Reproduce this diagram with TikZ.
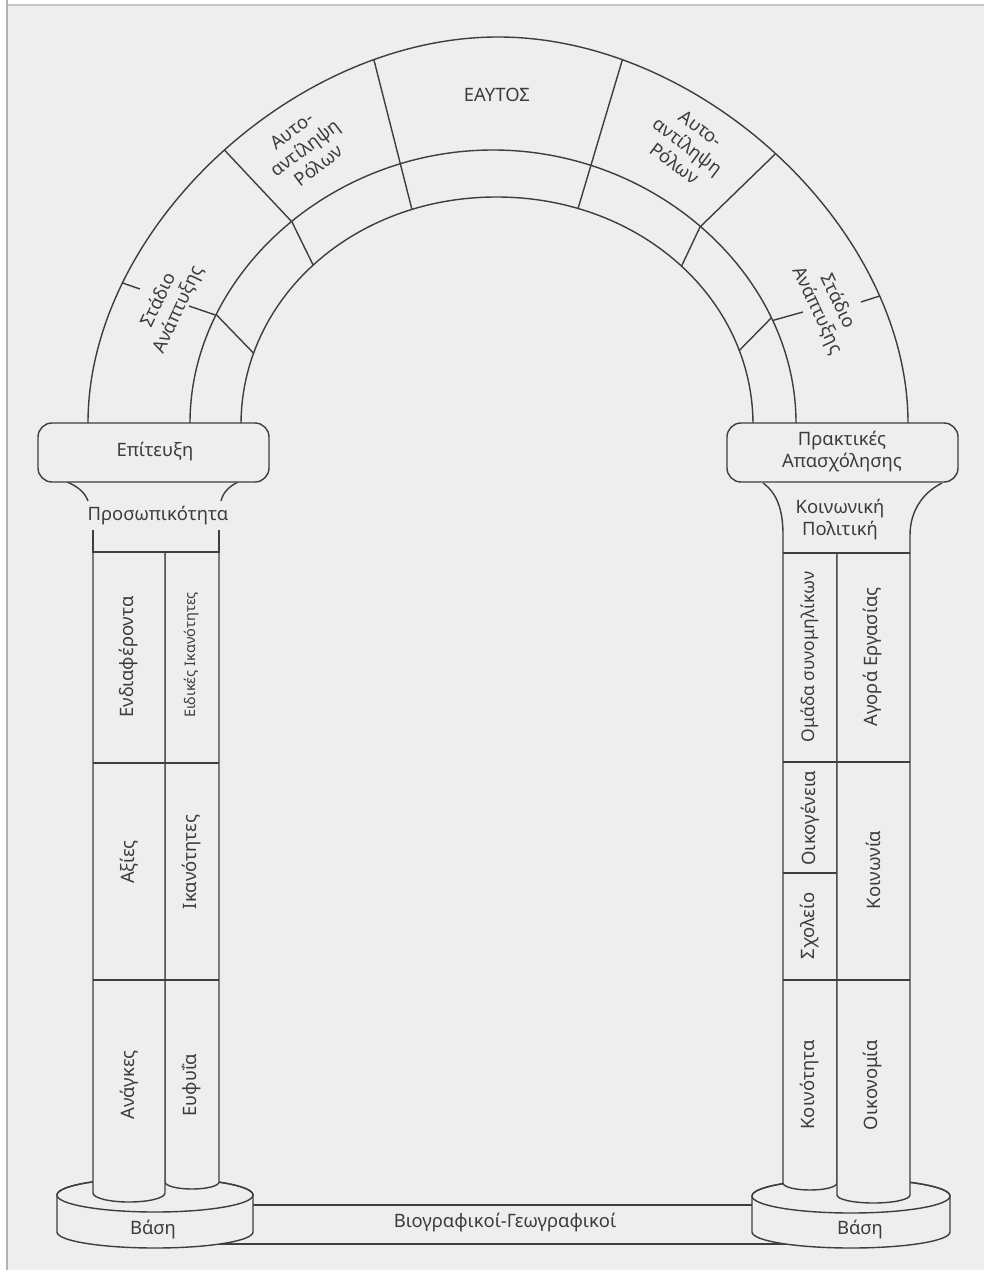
\documentclass[tikz,border=0pt]{standalone}
\usepackage{fontspec}
\setmainfont{Noto Sans}
\definecolor{bg}{RGB}{238,238,238}
\definecolor{ink}{RGB}{62,62,62}
\definecolor{txt}{RGB}{60,60,60}
\tikzset{
  outline/.style={draw=ink, line width=0.8pt},
  solidfill/.style={outline, fill=bg},
  lbl/.style={text=txt, font=\fontsize{10.5}{12.5}\selectfont, align=center, inner sep=0pt},
  vlbl/.style={lbl, rotate=90},
}
\begin{document}
\begin{tikzpicture}[x=0.02cm,y=-0.02cm]
\useasboundingbox (0,0) rectangle (984,1270);
% page background (scan)
\fill[white] (0,0) rectangle (984,1270);
\fill[bg] (8,5) rectangle (984,1270);
\draw[gray!60, line width=1.6pt] (7,0) -- (7,1270);
\draw[gray!45, line width=1pt] (8,5) -- (984,5);

% connecting bar
\draw[solidfill] (200,1205) rectangle (800,1244);
% bases
\draw[solidfill] (57,1195) -- (57,1232) arc[start angle=180, end angle=0, x radius=98, y radius=16]
  -- (253,1195) arc[start angle=0, end angle=-180, x radius=98, y radius=17] -- cycle;
\draw[outline] (155,1195) ellipse [x radius=98, y radius=17];
\draw[solidfill] (752,1196) -- (752,1232) arc[start angle=180, end angle=0, x radius=99, y radius=16]
  -- (950,1196) arc[start angle=0, end angle=-180, x radius=99, y radius=17] -- cycle;
\draw[outline] (851,1196) ellipse [x radius=99, y radius=17];

% left column
\draw[solidfill] (165,552) -- (165,1182) arc[start angle=180, end angle=0, x radius=27, y radius=7] -- (219,552);
\draw[solidfill] (93,552) -- (93,1193) arc[start angle=180, end angle=0, x radius=36, y radius=9] -- (165,552);
\draw[outline] (93,530) -- (93,552) -- (219,552) -- (219,530);
\draw[outline] (93,763) -- (219,763);
\draw[outline] (93,980) -- (219,980);

% right column
\draw[solidfill] (783,553) -- (783,1183) arc[start angle=180, end angle=0, x radius=27, y radius=7] -- (837,553);
\draw[solidfill] (837,553) -- (837,1195) arc[start angle=180, end angle=0, x radius=36.5, y radius=8] -- (910,553);
\draw[outline] (783,553) -- (910,553);
\draw[outline] (783,762) -- (910,762);
\draw[outline] (783,873) -- (837,873);
\draw[outline] (783,980) -- (910,980);
\draw[outline] (763,483) .. controls (777,493) and (783,510) .. (783,535) -- (783,553);
\draw[outline] (942,483) .. controls (922,493) and (910,512) .. (910,535) -- (910,553);

% left capital neck
\draw[outline] (67,482) .. controls (79,487) and (85,493) .. (88,501);
\draw[outline] (238,482) .. controls (228,487) and (223,493) .. (221,501);

% arch rings
\draw[outline] (88,423) .. controls (88,230) and (293,37) .. (498,37) .. controls (703,37) and (908,230) .. (908,423);
\draw[outline] (190,423) .. controls (190,276) and (329,150) .. (493,150) .. controls (657,150) and (796,276) .. (796,423);
\draw[outline] (241,423) .. controls (242,298) and (353,197) .. (496.5,197) .. controls (640,197) and (752,298) .. (753,423);

% dividers through the whole arch
\begin{scope}[even odd rule]
\clip (88,423) .. controls (88,230) and (293,37) .. (498,37) .. controls (703,37) and (908,230) .. (908,423) -- cycle
  (241,423) .. controls (242,298) and (353,197) .. (496.5,197) .. controls (640,197) and (752,298) .. (753,423) -- cycle;
\draw[outline] (362,13) -- (422,249);
\draw[outline] (636,14) -- (566,249);
\draw[outline] (200,124) -- (292,222) -- (318,275);
\draw[outline] (800,130) -- (700,227) -- (675,280);
\end{scope}
% dividers in the outer ring
\begin{scope}[even odd rule]
\clip (88,423) .. controls (88,230) and (293,37) .. (498,37) .. controls (703,37) and (908,230) .. (908,423) -- cycle
  (190,423) .. controls (190,276) and (329,150) .. (493,150) .. controls (657,150) and (796,276) .. (796,423) -- cycle;
\draw[outline] (111,279) -- (140,289);
\draw[outline] (189,306) -- (230,320);
\draw[outline] (892,292) -- (861,302);
\draw[outline] (803,312) -- (760,324);
\end{scope}
% dividers in the inner ring
\begin{scope}[even odd rule]
\clip (190,423) .. controls (190,276) and (329,150) .. (493,150) .. controls (657,150) and (796,276) .. (796,423) -- cycle
  (241,423) .. controls (242,298) and (353,197) .. (496.5,197) .. controls (640,197) and (752,298) .. (753,423) -- cycle;
\draw[outline] (205,303) -- (265,365);
\draw[outline] (780,309) -- (728,362);
\end{scope}

% capitals
\draw[solidfill, rounded corners=8pt] (38,423) rectangle (269,482);
\draw[solidfill, rounded corners=8pt] (727,423) rectangle (958,482);

% arch labels
\node[lbl] (eautos) at (497,95) {ΕΑΥΤΟΣ};
\node[lbl, rotate=37] (autoL) at (305,148) {Αυτο-\\αντίληψη\\Ρόλων};
\node[lbl, rotate=-37] (autoR) at (688,146) {Αυτο-\\αντίληψη\\Ρόλων};
\node[lbl, rotate=65] (stageL) at (169,305) {Στάδιο\\Ανάπτυξης};
\node[lbl, rotate=-65] (stageR) at (827,306) {Στάδιο\\Ανάπτυξης};

% capital labels
\node[lbl] (epit) at (155,452) {Επίτευξη};
\node[lbl] (pros) at (158,516) {Προσωπικότητα};
\node[lbl] (prakt) at (842,452) {Πρακτικές\\Απασχόλησης};
\node[lbl] (koinpol) at (840,520) {Κοινωνική\\Πολιτική};

% left column labels
\node[vlbl] (endiaf) at (129,657) {Ενδιαφέροντα};
\node[vlbl, font=\fontsize{8.3}{10}\selectfont] (eidikes) at (192,655) {Ειδικές Ικανότητες};
\node[vlbl] (axies) at (129,862) {Αξίες};
\node[vlbl] (ikan) at (192,862) {Ικανότητες};
\node[vlbl] (anagkes) at (129,1085) {Ανάγκες};
\node[vlbl] (eufyia) at (192,1085) {Ευφυΐα};

% right column labels
\node[vlbl, font=\fontsize{10}{12}\selectfont] (omada) at (810,657) {Ομάδα συνομηλίκων};
\node[vlbl] (oikog) at (810,818) {Οικογένεια};
\node[vlbl] (sxoleio) at (810,926) {Σχολείο};
\node[vlbl] (koinot) at (810,1085) {Κοινότητα};
\node[vlbl] (agora) at (873,657) {Αγορά Εργασίας};
\node[vlbl] (koinonia) at (873,870) {Κοινωνία};
\node[vlbl] (oikon) at (873,1085) {Οικονομία};

% base labels
\node[lbl] (vasiL) at (153,1230) {Βάση};
\node[lbl] (vasiR) at (860,1230) {Βάση};
\node[lbl] (bio) at (505,1223) {Βιογραφικοί-Γεωγραφικοί};
\end{tikzpicture}
\end{document}
